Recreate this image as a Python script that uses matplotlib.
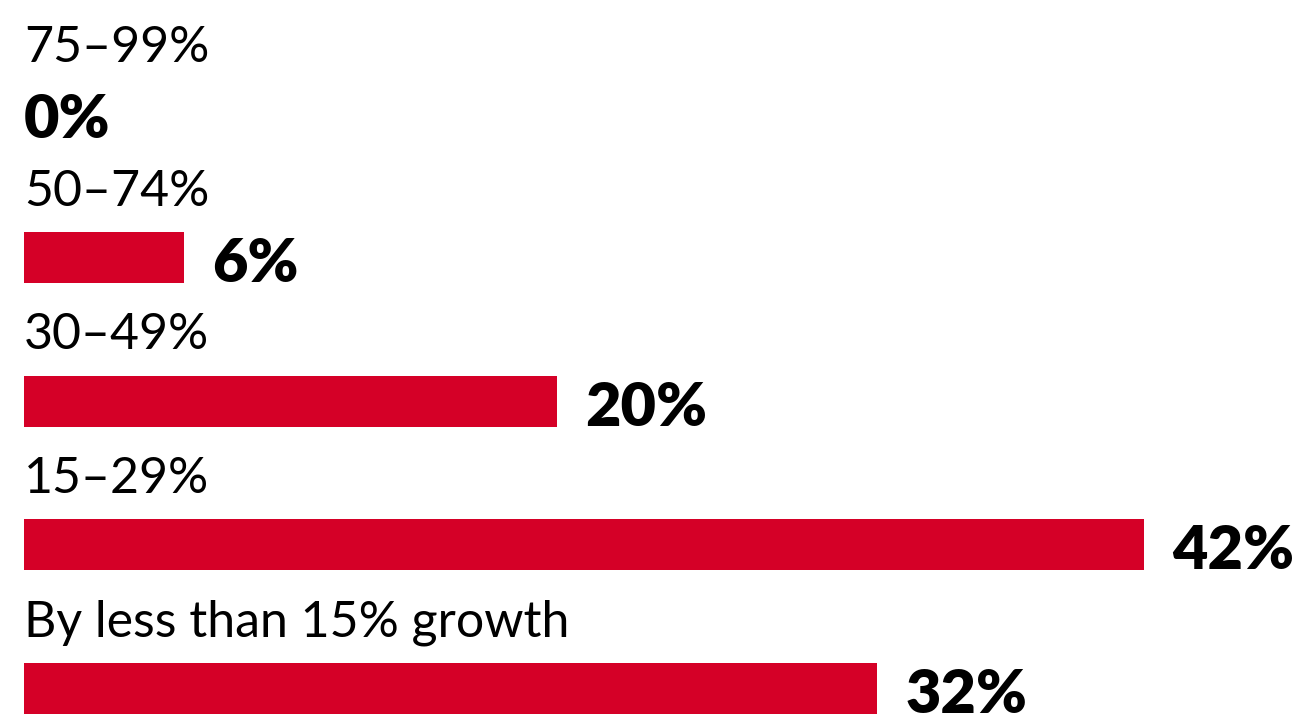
import matplotlib.pyplot as plt

# Data
categories = ['75–99%', '50–74%', '30–49%', '15–29%', 'By less than 15% growth']
values = [0, 6, 20, 42, 32]
value_labels = ['0%', '6%', '20%', '42%', '32%']

bar_color = '#D50027'

fig = plt.figure(figsize=(13.08, 7.18), dpi=100)
ax = fig.add_axes([0, 0, 1, 1])

pos = list(range(len(categories)))
ax.barh(pos, values, height=0.355, color=bar_color, left=0)

for i, (cat, v, lab) in enumerate(zip(categories, values, value_labels)):
    # category label sits above the bar
    ax.text(0, i - 0.36, cat, fontsize=36, family='Lato', fontweight='normal',
            va='baseline', ha='left', color='black')
    # value label after the bar end, baseline on bar bottom
    ax.annotate(lab, xy=(v, i + 0.17), xytext=(20 if v > 0 else 0, 0),
                textcoords='offset points', fontsize=44, family='Lato',
                fontweight='heavy', va='baseline', ha='left', color='black')

ax.set_xlim(-0.9, 48.15)
ax.set_ylim(4.205, -0.792)
ax.axis('off')

fig.savefig('out.png', dpi=100)
